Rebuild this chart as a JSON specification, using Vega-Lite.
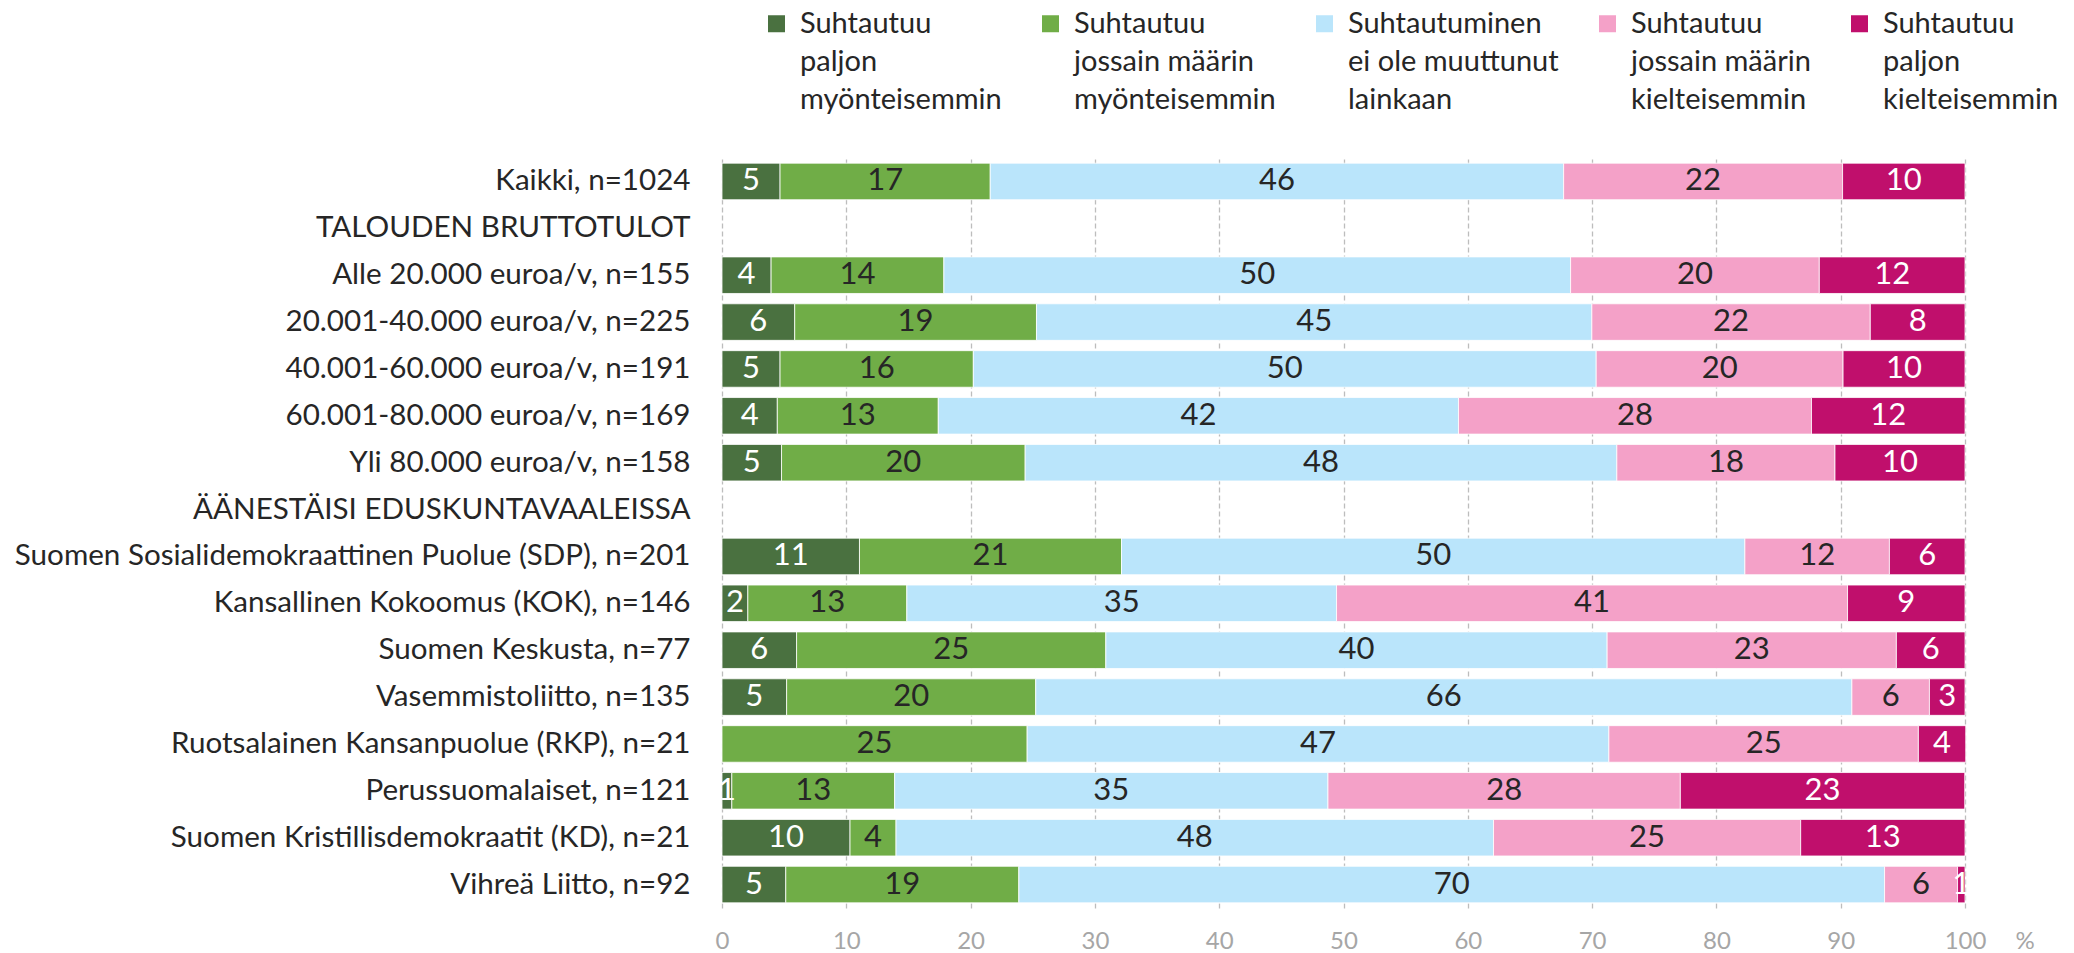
{
  "$schema": "https://vega.github.io/schema/vega-lite/v6.json",
  "width": 1243,
  "height": 750,
  "autosize": {"type": "none"},
  "padding": {"left": 722, "top": 158, "right": 109, "bottom": 45},
  "background": "white",
  "config": {"view": {"stroke": null}, "font": "Lato", "style": {"guide-label": {"lineHeight": 38}}},
  "data": {"values": [
    {"group": "Kaikki, n=1024", "k": 0, "cat": "Suhtautuu paljon myönteisemmin", "v": 4.67},
    {"group": "Kaikki, n=1024", "k": 1, "cat": "Suhtautuu jossain määrin myönteisemmin", "v": 16.91},
    {"group": "Kaikki, n=1024", "k": 2, "cat": "Suhtautuminen ei ole muuttunut lainkaan", "v": 46.13},
    {"group": "Kaikki, n=1024", "k": 3, "cat": "Suhtautuu jossain määrin kielteisemmin", "v": 22.44},
    {"group": "Kaikki, n=1024", "k": 4, "cat": "Suhtautuu paljon kielteisemmin", "v": 9.85},
    {"group": "Alle 20.000 euroa/v, n=155", "k": 0, "cat": "Suhtautuu paljon myönteisemmin", "v": 3.95},
    {"group": "Alle 20.000 euroa/v, n=155", "k": 1, "cat": "Suhtautuu jossain määrin myönteisemmin", "v": 13.9},
    {"group": "Alle 20.000 euroa/v, n=155", "k": 2, "cat": "Suhtautuminen ei ole muuttunut lainkaan", "v": 50.42},
    {"group": "Alle 20.000 euroa/v, n=155", "k": 3, "cat": "Suhtautuu jossain määrin kielteisemmin", "v": 20.01},
    {"group": "Alle 20.000 euroa/v, n=155", "k": 4, "cat": "Suhtautuu paljon kielteisemmin", "v": 11.72},
    {"group": "20.001-40.000 euroa/v, n=225", "k": 0, "cat": "Suhtautuu paljon myönteisemmin", "v": 5.85},
    {"group": "20.001-40.000 euroa/v, n=225", "k": 1, "cat": "Suhtautuu jossain määrin myönteisemmin", "v": 19.45},
    {"group": "20.001-40.000 euroa/v, n=225", "k": 2, "cat": "Suhtautuminen ei ole muuttunut lainkaan", "v": 44.68},
    {"group": "20.001-40.000 euroa/v, n=225", "k": 3, "cat": "Suhtautuu jossain määrin kielteisemmin", "v": 22.4},
    {"group": "20.001-40.000 euroa/v, n=225", "k": 4, "cat": "Suhtautuu paljon kielteisemmin", "v": 7.62},
    {"group": "40.001-60.000 euroa/v, n=191", "k": 0, "cat": "Suhtautuu paljon myönteisemmin", "v": 4.67},
    {"group": "40.001-60.000 euroa/v, n=191", "k": 1, "cat": "Suhtautuu jossain määrin myönteisemmin", "v": 15.55},
    {"group": "40.001-60.000 euroa/v, n=191", "k": 2, "cat": "Suhtautuminen ei ole muuttunut lainkaan", "v": 50.11},
    {"group": "40.001-60.000 euroa/v, n=191", "k": 3, "cat": "Suhtautuu jossain määrin kielteisemmin", "v": 19.86},
    {"group": "40.001-60.000 euroa/v, n=191", "k": 4, "cat": "Suhtautuu paljon kielteisemmin", "v": 9.81},
    {"group": "60.001-80.000 euroa/v, n=169", "k": 0, "cat": "Suhtautuu paljon myönteisemmin", "v": 4.45},
    {"group": "60.001-80.000 euroa/v, n=169", "k": 1, "cat": "Suhtautuu jossain määrin myönteisemmin", "v": 12.95},
    {"group": "60.001-80.000 euroa/v, n=169", "k": 2, "cat": "Suhtautuminen ei ole muuttunut lainkaan", "v": 41.85},
    {"group": "60.001-80.000 euroa/v, n=169", "k": 3, "cat": "Suhtautuu jossain määrin kielteisemmin", "v": 28.4},
    {"group": "60.001-80.000 euroa/v, n=169", "k": 4, "cat": "Suhtautuu paljon kielteisemmin", "v": 12.35},
    {"group": "Yli 80.000 euroa/v, n=158", "k": 0, "cat": "Suhtautuu paljon myönteisemmin", "v": 4.79},
    {"group": "Yli 80.000 euroa/v, n=158", "k": 1, "cat": "Suhtautuu jossain määrin myönteisemmin", "v": 19.6},
    {"group": "Yli 80.000 euroa/v, n=158", "k": 2, "cat": "Suhtautuminen ei ole muuttunut lainkaan", "v": 47.6},
    {"group": "Yli 80.000 euroa/v, n=158", "k": 3, "cat": "Suhtautuu jossain määrin kielteisemmin", "v": 17.55},
    {"group": "Yli 80.000 euroa/v, n=158", "k": 4, "cat": "Suhtautuu paljon kielteisemmin", "v": 10.46},
    {"group": "Suomen Sosialidemokraattinen Puolue (SDP), n=201", "k": 0, "cat": "Suhtautuu paljon myönteisemmin", "v": 11.06},
    {"group": "Suomen Sosialidemokraattinen Puolue (SDP), n=201", "k": 1, "cat": "Suhtautuu jossain määrin myönteisemmin", "v": 21.08},
    {"group": "Suomen Sosialidemokraattinen Puolue (SDP), n=201", "k": 2, "cat": "Suhtautuminen ei ole muuttunut lainkaan", "v": 50.15},
    {"group": "Suomen Sosialidemokraattinen Puolue (SDP), n=201", "k": 3, "cat": "Suhtautuu jossain määrin kielteisemmin", "v": 11.63},
    {"group": "Suomen Sosialidemokraattinen Puolue (SDP), n=201", "k": 4, "cat": "Suhtautuu paljon kielteisemmin", "v": 6.08},
    {"group": "Kansallinen Kokoomus (KOK), n=146", "k": 0, "cat": "Suhtautuu paljon myönteisemmin", "v": 2.08},
    {"group": "Kansallinen Kokoomus (KOK), n=146", "k": 1, "cat": "Suhtautuu jossain määrin myönteisemmin", "v": 12.79},
    {"group": "Kansallinen Kokoomus (KOK), n=146", "k": 2, "cat": "Suhtautuminen ei ole muuttunut lainkaan", "v": 34.57},
    {"group": "Kansallinen Kokoomus (KOK), n=146", "k": 3, "cat": "Suhtautuu jossain määrin kielteisemmin", "v": 41.11},
    {"group": "Kansallinen Kokoomus (KOK), n=146", "k": 4, "cat": "Suhtautuu paljon kielteisemmin", "v": 9.45},
    {"group": "Suomen Keskusta, n=77", "k": 0, "cat": "Suhtautuu paljon myönteisemmin", "v": 6.0},
    {"group": "Suomen Keskusta, n=77", "k": 1, "cat": "Suhtautuu jossain määrin myönteisemmin", "v": 24.88},
    {"group": "Suomen Keskusta, n=77", "k": 2, "cat": "Suhtautuminen ei ole muuttunut lainkaan", "v": 40.33},
    {"group": "Suomen Keskusta, n=77", "k": 3, "cat": "Suhtautuu jossain määrin kielteisemmin", "v": 23.27},
    {"group": "Suomen Keskusta, n=77", "k": 4, "cat": "Suhtautuu paljon kielteisemmin", "v": 5.52},
    {"group": "Vasemmistoliitto, n=135", "k": 0, "cat": "Suhtautuu paljon myönteisemmin", "v": 5.2},
    {"group": "Vasemmistoliitto, n=135", "k": 1, "cat": "Suhtautuu jossain määrin myönteisemmin", "v": 20.04},
    {"group": "Vasemmistoliitto, n=135", "k": 2, "cat": "Suhtautuminen ei ole muuttunut lainkaan", "v": 65.66},
    {"group": "Vasemmistoliitto, n=135", "k": 3, "cat": "Suhtautuu jossain määrin kielteisemmin", "v": 6.24},
    {"group": "Vasemmistoliitto, n=135", "k": 4, "cat": "Suhtautuu paljon kielteisemmin", "v": 2.86},
    {"group": "Ruotsalainen Kansanpuolue (RKP), n=21", "k": 0, "cat": "Suhtautuu paljon myönteisemmin", "v": 0},
    {"group": "Ruotsalainen Kansanpuolue (RKP), n=21", "k": 1, "cat": "Suhtautuu jossain määrin myönteisemmin", "v": 24.55},
    {"group": "Ruotsalainen Kansanpuolue (RKP), n=21", "k": 2, "cat": "Suhtautuminen ei ole muuttunut lainkaan", "v": 46.8},
    {"group": "Ruotsalainen Kansanpuolue (RKP), n=21", "k": 3, "cat": "Suhtautuu jossain määrin kielteisemmin", "v": 24.9},
    {"group": "Ruotsalainen Kansanpuolue (RKP), n=21", "k": 4, "cat": "Suhtautuu paljon kielteisemmin", "v": 3.81},
    {"group": "Perussuomalaiset, n=121", "k": 0, "cat": "Suhtautuu paljon myönteisemmin", "v": 0.79},
    {"group": "Perussuomalaiset, n=121", "k": 1, "cat": "Suhtautuu jossain määrin myönteisemmin", "v": 13.1},
    {"group": "Perussuomalaiset, n=121", "k": 2, "cat": "Suhtautuminen ei ole muuttunut lainkaan", "v": 34.86},
    {"group": "Perussuomalaiset, n=121", "k": 3, "cat": "Suhtautuu jossain määrin kielteisemmin", "v": 28.35},
    {"group": "Perussuomalaiset, n=121", "k": 4, "cat": "Suhtautuu paljon kielteisemmin", "v": 22.88},
    {"group": "Suomen Kristillisdemokraatit (KD), n=21", "k": 0, "cat": "Suhtautuu paljon myönteisemmin", "v": 10.3},
    {"group": "Suomen Kristillisdemokraatit (KD), n=21", "k": 1, "cat": "Suhtautuu jossain määrin myönteisemmin", "v": 3.7},
    {"group": "Suomen Kristillisdemokraatit (KD), n=21", "k": 2, "cat": "Suhtautuminen ei ole muuttunut lainkaan", "v": 48.07},
    {"group": "Suomen Kristillisdemokraatit (KD), n=21", "k": 3, "cat": "Suhtautuu jossain määrin kielteisemmin", "v": 24.71},
    {"group": "Suomen Kristillisdemokraatit (KD), n=21", "k": 4, "cat": "Suhtautuu paljon kielteisemmin", "v": 13.22},
    {"group": "Vihreä Liitto, n=92", "k": 0, "cat": "Suhtautuu paljon myönteisemmin", "v": 5.13},
    {"group": "Vihreä Liitto, n=92", "k": 1, "cat": "Suhtautuu jossain määrin myönteisemmin", "v": 18.75},
    {"group": "Vihreä Liitto, n=92", "k": 2, "cat": "Suhtautuminen ei ole muuttunut lainkaan", "v": 69.65},
    {"group": "Vihreä Liitto, n=92", "k": 3, "cat": "Suhtautuu jossain määrin kielteisemmin", "v": 5.87},
    {"group": "Vihreä Liitto, n=92", "k": 4, "cat": "Suhtautuu paljon kielteisemmin", "v": 0.6}
  ]},
  "encoding": {
    "y": {
      "field": "group", "type": "nominal", "sort": null,
      "scale": {
        "domain": ["Kaikki, n=1024", "TALOUDEN BRUTTOTULOT", "Alle 20.000 euroa/v, n=155", "20.001-40.000 euroa/v, n=225", "40.001-60.000 euroa/v, n=191", "60.001-80.000 euroa/v, n=169", "Yli 80.000 euroa/v, n=158", "ÄÄNESTÄISI EDUSKUNTAVAALEISSA", "Suomen Sosialidemokraattinen Puolue (SDP), n=201", "Kansallinen Kokoomus (KOK), n=146", "Suomen Keskusta, n=77", "Vasemmistoliitto, n=135", "Ruotsalainen Kansanpuolue (RKP), n=21", "Perussuomalaiset, n=121", "Suomen Kristillisdemokraatit (KD), n=21", "Vihreä Liitto, n=92"],
        "paddingInner": 0.22, "paddingOuter": 0.11
      },
      "axis": {"title": null, "ticks": false, "domain": false, "grid": false, "labelPadding": 32, "labelFontSize": 29.6, "labelColor": "#262626", "labelLimit": 900, "labelFont": "Lato"}
    }
  },
  "layer": [
    {
      "mark": {"type": "bar", "stroke": "white", "strokeWidth": 0.8},
      "encoding": {
        "x": {
          "field": "v", "type": "quantitative", "stack": "zero",
          "scale": {"domain": [0, 100], "nice": false, "zero": true},
          "axis": {
            "title": "%", "values": [0, 10, 20, 30, 40, 50, 60, 70, 80, 90, 100],
            "grid": true, "gridDash": [5, 3], "gridColor": "#bdbdbd", "gridWidth": 1.3,
            "ticks": false, "domain": false, "labelFlush": false, "labelOverlap": false, "labelBound": false,
            "labelFontSize": 24, "labelColor": "#a6a6a6", "labelPadding": 21, "labelFont": "Lato",
            "titleX": 1293, "titleY": 21, "titleAlign": "left", "titleBaseline": "top", "titleAnchor": "start",
            "titleFontWeight": "normal", "titleFontSize": 24, "titleColor": "#a6a6a6", "titleFont": "Lato"
          }
        },
        "color": {
          "field": "cat", "type": "nominal",
          "scale": {
            "domain": ["Suhtautuu paljon myönteisemmin", "Suhtautuu jossain määrin myönteisemmin", "Suhtautuminen ei ole muuttunut lainkaan", "Suhtautuu jossain määrin kielteisemmin", "Suhtautuu paljon kielteisemmin"],
            "range": ["#4a7140", "#70ad47", "#bae5fb", "#f4a1c8", "#c00f6c"]
          },
          "legend": {
            "orient": "none", "legendX": 40, "legendY": -149, "direction": "horizontal", "columns": 5,
            "title": null, "padding": 0, "symbolType": "square", "symbolSize": 289, "symbolStrokeWidth": 0,
            "symbolOpacity": 1, "labelFontSize": 29, "labelFont": "Lato", "labelColor": "#262626", "labelOffset": 9,
            "columnPadding": 34, "labelLimit": 600,
            "labelExpr": "[substring(datum.label, 0, indexof(datum.label, ' ')), substring(datum.label, indexof(datum.label, ' ') + 1, lastindexof(datum.label, ' ')), substring(datum.label, lastindexof(datum.label, ' ') + 1)]",
            "encode": {"labels": {"update": {"lineHeight": {"value": 38}}}}
          }
        },
        "order": {"field": "k", "type": "quantitative"}
      }
    },
    {
      "transform": [{"filter": "datum.v > 0"}],
      "mark": {"type": "text", "align": "center", "baseline": "middle", "fontSize": 31, "font": "Lato"},
      "encoding": {
        "x": {"field": "v", "type": "quantitative", "stack": "zero", "bandPosition": 0.5},
        "detail": {"field": "cat"},
        "order": {"field": "k", "type": "quantitative"},
        "text": {"field": "v", "type": "quantitative", "format": ".0f"},
        "color": {"condition": {"test": "datum.k === 0 || datum.k === 4", "value": "#ffffff"}, "value": "#262626"}
      }
    }
  ]
}
